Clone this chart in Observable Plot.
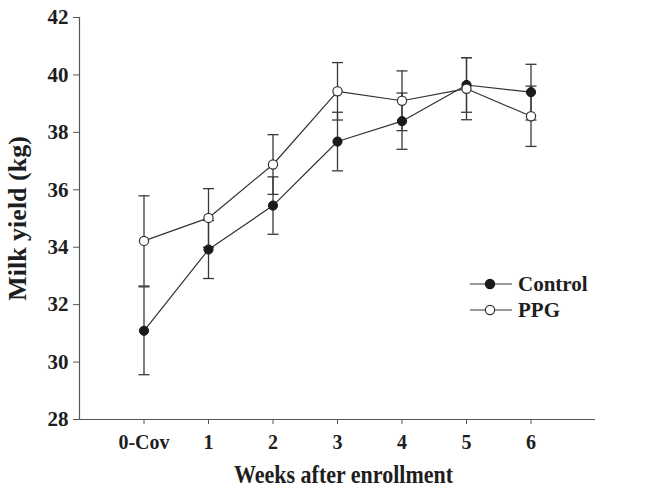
<!DOCTYPE html>
<html>
<head>
<meta charset="utf-8">
<script src="https://cdn.jsdelivr.net/npm/d3@7"></script>
<script src="https://cdn.jsdelivr.net/npm/@observablehq/plot@0.6"></script>
<style>
  html, body { margin: 0; padding: 0; background: #fff; }
  #wrap { position: relative; width: 659px; height: 496px; }
  #legend { position: absolute; left: 0; top: 0; pointer-events: none; }
</style>
</head>
<body>
<div id="wrap"></div>
<script>
// ---- data ----
const weeks = ["0-Cov", "1", "2", "3", "4", "5", "6"];
const controlMean = [31.09, 33.92, 35.45, 37.68, 38.39, 39.65, 39.40];
const controlSE   = [1.53, 1.01, 1.00, 1.02, 0.98, 0.95, 0.97];
const ppgMean     = [34.22, 35.02, 36.88, 39.43, 39.10, 39.52, 38.56];
const ppgSE       = [1.57, 1.02, 1.04, 1.00, 1.04, 1.08, 1.05];
const seriesNames = ["Control", "PPG"];
const yTicks = [28, 30, 32, 34, 36, 38, 40, 42];
const xDomain = [-1, 7];
const yDomain = [28, 42];

const rows = [];
weeks.forEach((w, i) => {
  rows.push({series: "Control", i, mean: controlMean[i], se: controlSE[i]});
  rows.push({series: "PPG", i, mean: ppgMean[i], se: ppgSE[i]});
});
const caps = rows.flatMap(d => [{...d, y: d.mean - d.se}, {...d, y: d.mean + d.se}]);
const control = rows.filter(d => d.series === "Control");
const ppg = rows.filter(d => d.series === "PPG");

const capSymbol = {
  draw(context, size) {
    const w = Math.sqrt(size / Math.PI);
    context.moveTo(-w, 0);
    context.lineTo(w, 0);
  }
};

const font = "'Liberation Serif', 'Times New Roman', serif";

const chart = Plot.plot({
  width: 659,
  height: 496,
  marginTop: 17,
  marginRight: 64,
  marginBottom: 77,
  marginLeft: 79,
  style: {fontFamily: font, fontWeight: "bold", fontSize: "20px", color: "#222", background: "#fff"},
  x: {type: "linear", domain: xDomain},
  y: {domain: yDomain},
  marks: [
    Plot.axisY({ticks: yTicks, tickSize: 6, tickPadding: 5, fontSize: 21, fontWeight: "bold", stroke: "#555", fill: "#1e1e1e", label: null}),
    Plot.axisX({ticks: d3.range(weeks.length), tickFormat: i => weeks[i], tickSize: 5, tickPadding: 10, fontSize: 20, fontWeight: "bold", stroke: "#555", fill: "#1e1e1e", label: null}),
    Plot.ruleX([xDomain[0]], {y1: yDomain[0], y2: yDomain[1], stroke: "#555", strokeWidth: 1.2}),
    Plot.ruleY([yDomain[0]], {x1: xDomain[0], x2: xDomain[1], stroke: "#555", strokeWidth: 1.2}),
    // error bars
    Plot.ruleX(rows, {x: "i", y1: d => d.mean - d.se, y2: d => d.mean + d.se, stroke: "#3a3a3a", strokeWidth: 1.3}),
    Plot.dot(caps, {x: "i", y: "y", symbol: capSymbol, r: 5.5, stroke: "#3a3a3a", strokeWidth: 1.3, fill: "none"}),
    // lines
    Plot.line(control, {x: "i", y: "mean", stroke: "#333", strokeWidth: 1.2}),
    Plot.line(ppg, {x: "i", y: "mean", stroke: "#333", strokeWidth: 1.2}),
    // dots
    Plot.dot(control, {x: "i", y: "mean", r: 4.6, fill: "#1a1a1a", stroke: "#1a1a1a", strokeWidth: 1}),
    Plot.dot(ppg, {x: "i", y: "mean", r: 4.6, fill: "#fff", stroke: "#333", strokeWidth: 1.2}),
    // axis titles
    Plot.text(["Milk yield (kg)"], {frameAnchor: "left", dx: -62, rotate: -90, textAnchor: "middle", fontSize: 26, fontWeight: "bold", fill: "#1e1e1e"}),
    Plot.text(["Weeks after enrollment"], {frameAnchor: "bottom", dx: 6, dy: 63, textAnchor: "middle", fontSize: 26, fontWeight: "bold", fill: "#1e1e1e"})
  ]
});

document.getElementById("wrap").appendChild(chart);

// condense x title to match reference
d3.select(chart).selectAll("text").each(function() {
  if (this.textContent === "Weeks after enrollment") {
    d3.select(this).attr("textLength", 219).attr("lengthAdjust", "spacingAndGlyphs");
  }
});

// legend overlay
const legend = d3.select("#wrap").append("svg")
  .attr("id", "legend").attr("width", 659).attr("height", 496);
const legY = [284, 310];
seriesNames.forEach((name, k) => {
  const g = legend.append("g").attr("transform", `translate(0,${legY[k]})`);
  g.append("line").attr("x1", 470).attr("x2", 512).attr("y1", 0).attr("y2", 0)
    .attr("stroke", "#333").attr("stroke-width", 1.2);
  g.append("circle").attr("cx", 490).attr("cy", 0).attr("r", 4.6)
    .attr("fill", k === 0 ? "#1a1a1a" : "#fff")
    .attr("stroke", k === 0 ? "#1a1a1a" : "#333").attr("stroke-width", 1.2);
  g.append("text").attr("x", 518).attr("y", 0).attr("dy", "0.35em")
    .attr("font-family", font).attr("font-weight", "bold").attr("font-size", 21)
    .attr("fill", "#1e1e1e").text(name);
});
</script>
</body>
</html>
